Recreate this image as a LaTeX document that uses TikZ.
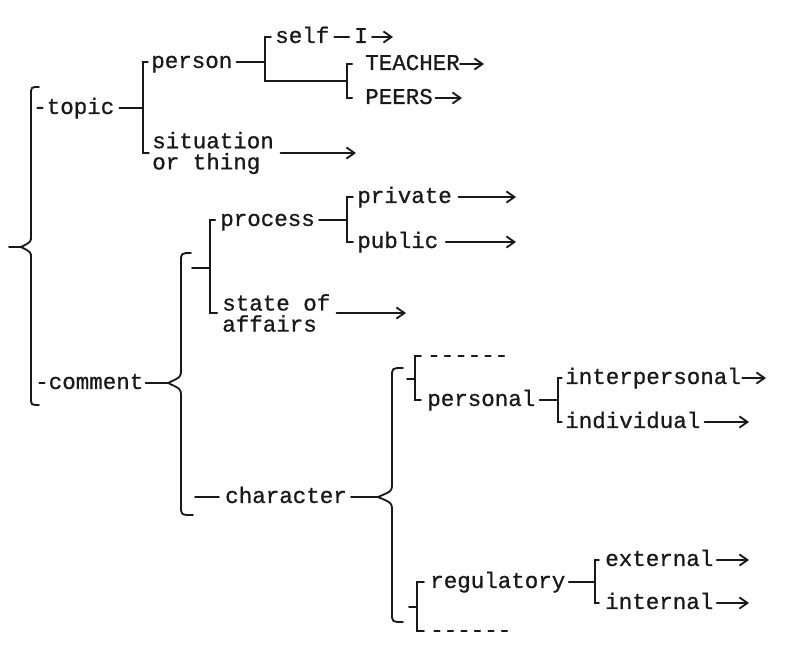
\documentclass[tikz,border=0pt]{standalone}
\usepackage{fontspec}
\newfontfamily\typer{Liberation Mono}[FakeBold=0.8]
\usetikzlibrary{arrows.meta}

\begin{document}
\begin{tikzpicture}[
  x=0.025cm, y=-0.025cm,
  term/.style={font=\typer\fontsize{16}{15}\selectfont, text=black!90,
               inner sep=0pt, anchor=mid west},
  twoline/.style={term, align=left, anchor=west},
  ln/.style={line width=1.3pt, draw=black!90, line cap=round},
  arr/.style={ln, -{Straight Barb[length=2mm, width=2.8mm]}}
]
  \typer\fontsize{16}{15}\selectfont
  \useasboundingbox (0,0) rectangle (794,650);

  \node[term] (topic) at (33,108) {-topic};
  \node[term] (person) at (151,62) {person};
  \node[twoline] (sit) at (152,153) {situation\\or thing};
  \node[term] (self) at (275,37) {self};
  \node[term] (selfI) at (354,37) {I};
  \node[term] (teacher) at (365,64) {TEACHER};
  \node[term] (peers) at (365,98) {PEERS};

  \node[term] (comment) at (35,383) {-comment};
  \node[term] (process) at (220,220) {process};
  \node[twoline] (state) at (222,313) {state of\\affairs};
  \node[term] (private) at (357,197) {private};
  \node[term] (public) at (357,242) {public};

  \node[term] (character) at (225,497) {character};
  \node[term] (dashA) at (427,356) {-{}-{}-{}-{}-{}-};
  \node[term] (personal) at (427,400) {personal};
  \node[term] (interp) at (565,378) {interpersonal};
  \node[term] (indiv) at (565,422) {individual};
  \node[term] (regul) at (430,582) {regulatory};
  \node[term] (dashB) at (430,631) {-{}-{}-{}-{}-{}-};
  \node[term] (extern) at (605,560) {external};
  \node[term] (intern) at (605,603) {internal};

  \coordinate (j1) at (143,108);
  \coordinate (j2) at (265,62);
  \coordinate (j3) at (347,81);
  \coordinate (j4) at (347,220);
  \coordinate (j5) at (210,268);
  \coordinate (j7) at (415,379);
  \coordinate (j8) at (417,607);
  \coordinate (j9) at (558,400);
  \coordinate (j10) at (595,582);
  \coordinate (t5) at (192,268);
  \coordinate (t7) at (407,379);
  \coordinate (t8) at (409,607);
  \coordinate (lead0) at (9,247);
  \coordinate (lead6) at (195,497);
  \coordinate (tip0) at (21,247);
  \coordinate (tip5) at (168,383);
  \coordinate (tip6) at (378,497);

  \draw[ln] (39,87) .. controls (31,87) .. (31,95) -- (31,236)
    .. controls (31,242) .. (tip0) .. controls (31,252) .. (31,258)
    -- (31,397) .. controls (31,405) .. (39,405);
  \draw[ln] (191,253) .. controls (181,253) .. (181,262) -- (181,370)
    .. controls (181,377) .. (tip5) .. controls (181,389) .. (181,396)
    -- (181,506) .. controls (181,515) .. (193,515);
  \draw[ln] (403,368) .. controls (392,368) .. (392,377) -- (392,484)
    .. controls (392,491) .. (tip6) .. controls (392,503) .. (392,510)
    -- (392,613) .. controls (392,622) .. (403,622);

  \draw[ln] (lead0) -- (tip0);
  \draw[ln] ([xshift=1.2mm]topic.mid east) -- (j1);
  \draw[ln] ([xshift=-0.8mm]person.mid west) -| (j1) |- ([xshift=-0.8mm]sit.west);
  \draw[ln] ([xshift=1mm]person.mid east) -- (j2);
  \draw[ln] ([xshift=-1mm]self.mid west) -| (j2) |- (j3);
  \draw[ln] ([xshift=-3.2mm]teacher.mid west) -| (j3) |- ([xshift=-3.2mm]peers.mid west);
  \draw[ln] ([xshift=1.2mm]self.mid east) -- ([xshift=-1.2mm]selfI.mid west);

  \draw[ln] ([xshift=0.5mm]comment.mid east) -- (tip5);
  \draw[ln] (t5) -- (j5);
  \draw[ln] ([xshift=-1.2mm]process.mid west) -| (j5) |- ([xshift=-1.2mm]state.west);
  \draw[ln] ([xshift=1mm]process.mid east) -- (j4);
  \draw[ln] ([xshift=-1mm]private.mid west) -| (j4) |- ([xshift=-1mm]public.mid west);

  \draw[ln] (lead6) -- ([xshift=-1.5mm]character.mid west);
  \draw[ln] ([xshift=1mm]character.mid east) -- (tip6);
  \draw[ln] (t7) -- (j7);
  \draw[ln] ([xshift=-1.5mm]dashA.mid west) -| (j7) |- ([xshift=-1.5mm]personal.mid west);
  \draw[ln] ([xshift=1mm]personal.mid east) -- (j9);
  \draw[ln] ([xshift=-0.8mm]interp.mid west) -| (j9) |- ([xshift=-0.8mm]indiv.mid west);
  \draw[ln] (t8) -- (j8);
  \draw[ln] ([xshift=-1.5mm]regul.mid west) -| (j8) |- ([xshift=-1.5mm]dashB.mid west);
  \draw[ln] ([xshift=0.8mm]regul.mid east) -- (j10);
  \draw[ln] ([xshift=-1.5mm]extern.mid west) -| (j10) |- ([xshift=-1.5mm]intern.mid west);

  \foreach \n/\a/\g/\x in {selfI/mid east/1/393, teacher/mid east/0/484,
      peers/mid east/0.6/462, sit/east/1.6/356, private/mid east/1.6/516,
      public/mid east/1.8/516, state/east/1.5/406, interp/mid east/0.3/766,
      indiv/mid east/1/749, extern/mid east/0.8/749, intern/mid east/0.8/749}{
    \coordinate (\n-end) at (\x,0);
    \draw[arr] ([xshift=\g mm]\n.\a) -- (\n.\a -| \n-end);
  }
\end{tikzpicture}
\end{document}
